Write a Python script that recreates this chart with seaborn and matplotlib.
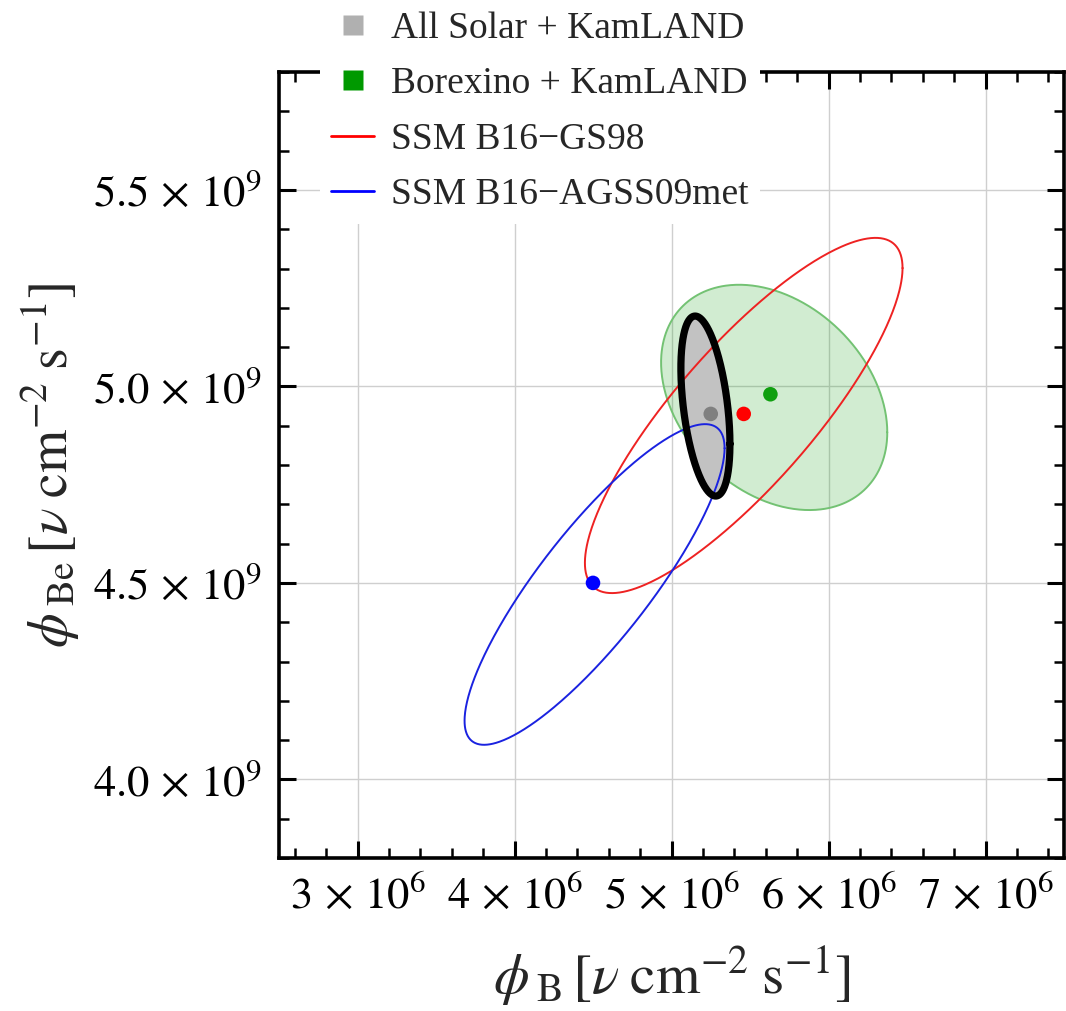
import numpy as np
import matplotlib
matplotlib.use("Agg")
import matplotlib.pyplot as plt
from matplotlib.lines import Line2D
from matplotlib.ticker import FixedLocator, MultipleLocator
import seaborn as sns

# ---------------- data ----------------
labels = ["All Solar + KamLAND", "Borexino + KamLAND",
          "SSM B16\u2212GS98", "SSM B16\u2212AGSS09met"]
# best-fit / model points
best_B = [5.25e6, 5.63e6, 5.46e6, 4.50e6]
best_Be = [4.93e9, 4.98e9, 4.93e9, 4.50e9]
# 1-sigma (2 dof, 68%) contour parameters
cen_B = [5.216e6, 5.654e6, 5.46e6, 4.51e6]
cen_Be = [4.950e9, 4.972e9, 4.926e9, 4.496e9]
sig_B = [0.103e6, 0.475e6, 0.667e6, 0.546e6]
sig_Be = [0.151e9, 0.189e9, 0.298e9, 0.269e9]
rho = [-0.42, -0.31, 0.83, 0.85]

xticks = [3e6, 4e6, 5e6, 6e6, 7e6]
xtick_labels = [r"$3\,\times\,10^{6}$", r"$4\,\times\,10^{6}$", r"$5\,\times\,10^{6}$",
                r"$6\,\times\,10^{6}$", r"$7\,\times\,10^{6}$"]
yticks = [4.0e9, 4.5e9, 5.0e9, 5.5e9]
ytick_labels = [r"$4.0\,\times\,10^{9}$", r"$4.5\,\times\,10^{9}$",
                r"$5.0\,\times\,10^{9}$", r"$5.5\,\times\,10^{9}$"]

# ---------------- style ----------------
sns.set_style("ticks")
plt.rcParams["font.family"] = ["Liberation Serif", "DejaVu Serif"]
plt.rcParams["mathtext.fontset"] = "stix"

dot_colors = ["#808080", "#10a010", "#ff0000", "#0000ff"]
leg_colors = ["#b0b0b0", "#009900", "#ff0000", "#0000ff"]

fig = plt.figure(figsize=(10.66, 10.11), dpi=100)
ax = fig.add_axes([279 / 1066, 153 / 1011, 785 / 1066, 786 / 1011])

k = np.sqrt(2.30)
t = np.linspace(0, 2 * np.pi, 500)


def contour(i):
    xs = cen_B[i] + k * sig_B[i] * np.cos(t)
    ys = cen_Be[i] + k * sig_Be[i] * (rho[i] * np.cos(t) + np.sqrt(1 - rho[i] ** 2) * np.sin(t))
    return xs, ys


# Borexino + KamLAND filled region
xs, ys = contour(1)
ax.fill(xs, ys, color=(0.0, 0.6, 0.0), alpha=0.18, lw=0, zorder=2)
sns.lineplot(x=xs, y=ys, sort=False, estimator=None, color=(0.45, 0.76, 0.45),
             lw=1.4, ax=ax, zorder=2.1, legend=False)

# All solar fill
xg, yg = contour(0)
ax.fill(xg, yg, color="#c2c2c2", lw=1.0, ec="#9a9a9a", zorder=2.5)

# SSM contours
for i, c in [(2, "#ee2222"), (3, "#1a22e0")]:
    xs, ys = contour(i)
    sns.lineplot(x=xs, y=ys, sort=False, estimator=None, color=c, lw=1.4,
                 ax=ax, zorder=3, legend=False)

# All solar thick outline
sns.lineplot(x=xg, y=yg, sort=False, estimator=None, color="black", lw=5.2,
             ax=ax, zorder=4, legend=False)

# best fit points
sns.scatterplot(x=best_B, y=best_Be, hue=labels,
                palette=dict(zip(labels, dot_colors)), s=110, edgecolor="none",
                ax=ax, zorder=6, legend=False)

# ---------------- axes ----------------
ax.set_xlim(2.5e6, 7.5e6)
ax.set_ylim(3.8e9, 5.8e9)
ax.xaxis.set_major_locator(FixedLocator(xticks))
ax.set_xticklabels(xtick_labels)
ax.yaxis.set_major_locator(FixedLocator(yticks))
ax.set_yticklabels(ytick_labels)
ax.xaxis.set_minor_locator(MultipleLocator(0.2e6))
ax.yaxis.set_minor_locator(MultipleLocator(0.1e9))
ax.tick_params(which="both", direction="in", top=True, right=True, colors="black")
ax.tick_params(which="major", length=12, width=2.2, labelsize=32, pad=12)
ax.tick_params(which="minor", length=7, width=1.8)
ax.grid(True, which="major", color="#cfcfcf", lw=1.0)
for s in ax.spines.values():
    s.set_linewidth(2.6)
    s.set_color("black")

ax.set_xlabel(r"$\phi_{\;\mathrm{B}}\,[\nu\;\mathrm{cm}^{-2}\;\mathrm{s}^{-1}]$",
              fontsize=41, labelpad=20)
ax.set_ylabel(r"$\phi_{\;\mathrm{Be}}\,[\nu\;\mathrm{cm}^{-2}\;\mathrm{s}^{-1}]$",
              fontsize=40, labelpad=8)

# ---------------- legend ----------------
handles = [
    Line2D([], [], ls="none", marker="s", ms=15, mfc=leg_colors[0], mec="none"),
    Line2D([], [], ls="none", marker="s", ms=15, mfc=leg_colors[1], mec="none"),
    Line2D([], [], color=leg_colors[2], lw=2),
    Line2D([], [], color=leg_colors[3], lw=2),
]
leg = ax.legend(handles, labels, loc="upper left",
                bbox_to_anchor=(320 / 1066, 1.0), bbox_transform=fig.transFigure,
                fontsize=27, frameon=True, facecolor="white", edgecolor="none",
                framealpha=1.0, fancybox=False, borderpad=0.3, labelspacing=0.56,
                handlelength=1.15, handletextpad=0.45, borderaxespad=0.0)
leg.set_zorder(20)

fig.savefig("out.png", dpi=100, facecolor="white")
